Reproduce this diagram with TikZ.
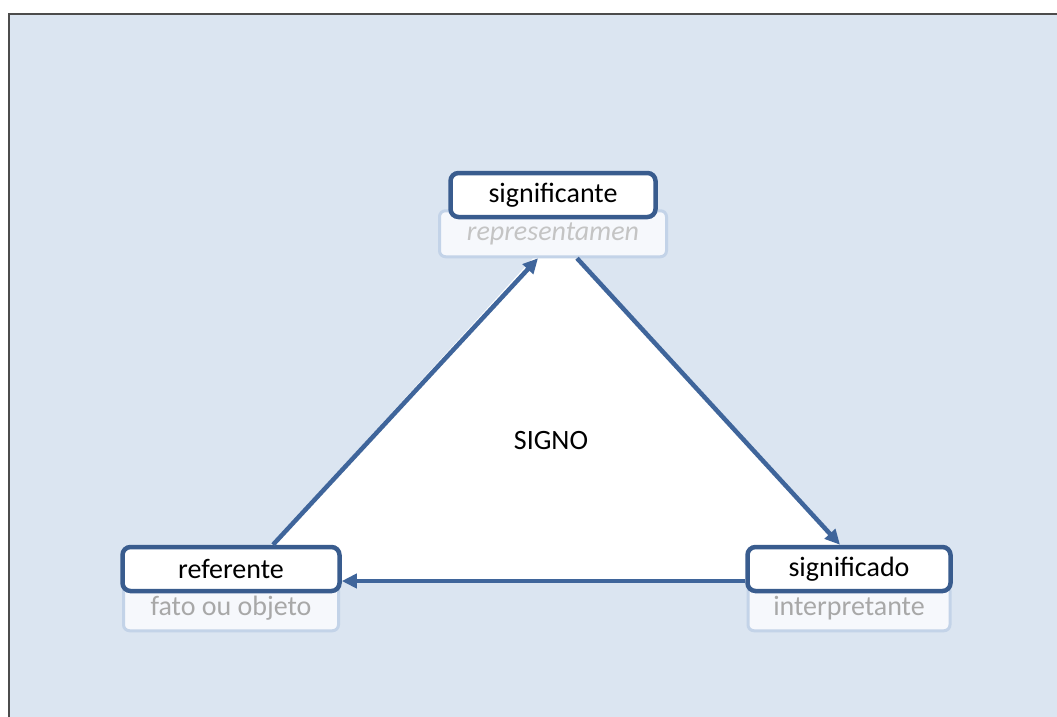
\documentclass[tikz,border=0pt]{standalone}
\usepackage{fontspec}
\setmainfont{Carlito}
\usepackage{xcolor}
\usetikzlibrary{arrows.meta, positioning, backgrounds}

\definecolor{panelblue}{HTML}{DBE5F1}
\definecolor{boxblue}{HTML}{395C8E}
\definecolor{arrowblue}{HTML}{3F659B}
\definecolor{subline}{HTML}{C3D3E8}
\definecolor{subfill}{HTML}{F6F8FC}
\definecolor{subtext}{HTML}{A8A8A8}
\definecolor{reptext}{HTML}{C4C4C4}

\begin{document}
\begin{tikzpicture}[x=1pt, y=-1pt,
    mainbox/.style={draw=boxblue, line width=4.5pt, rounded corners=8pt, fill=white, minimum height=44pt, inner sep=0pt, font=\fontsize{28}{32}\selectfont},
    subbox/.style={draw=subline, line width=3pt, rounded corners=6pt, fill=subfill, minimum height=46pt, inner sep=0pt, text=subtext, font=\fontsize{28}{32}\selectfont},
    link/.style={-{Triangle[length=15pt, width=14pt]}, line width=4.5pt, draw=arrowblue},
    centrelabel/.style={font=\fontsize{28}{32}\selectfont},
    node distance=0pt
]
\useasboundingbox (0,0) rectangle (1057,717);

% Panel and white triangle behind everything
\begin{scope}[on background layer]
    \fill[panelblue] (9,14) rectangle (1057,717);
    \draw[line width=2pt, draw=black!70] (9,717) -- (9,14) -- (1057,14);
    \coordinate (apex) at (556,233);
    \coordinate (left_corner) at (238,581);
    \coordinate (right_corner) at (872,581);
    \fill[white] (apex) -- (left_corner) -- (right_corner) -- cycle;
\end{scope}

% Corner boxes
\node[mainbox, minimum width=205pt] (significante) at (553,195) {significante};
\node[mainbox, minimum width=217pt] (referente) at (231,569) {referente};
\node[mainbox, minimum width=203pt] (significado) at (849,569) {significado};

% Sub labels tucked under each box
\begin{scope}[on background layer]
    \node[subbox, minimum width=227pt, text=reptext, font=\fontsize{28}{32}\selectfont\itshape, below=-10pt of significante] (representamen) {representamen};
    \node[subbox, minimum width=215pt, below=-10pt of referente] (fato) {fato ou objeto};
    \node[subbox, minimum width=202pt, below=-10pt of significado] (interpretante) {interpretante};
\end{scope}

% Centre label
\node[centrelabel] (signo) at (551,441) {SIGNO};

% Arrows round the triangle
\draw[link] ([xshift=42pt]referente.north) -- ([xshift=-15pt]representamen.south);
\draw[link] ([xshift=24pt]representamen.south) -- ([xshift=-9pt]significado.north);
\draw[link] ([yshift=-12pt]significado.west) -- ([yshift=-12pt]referente.east);

\end{tikzpicture}
\end{document}
